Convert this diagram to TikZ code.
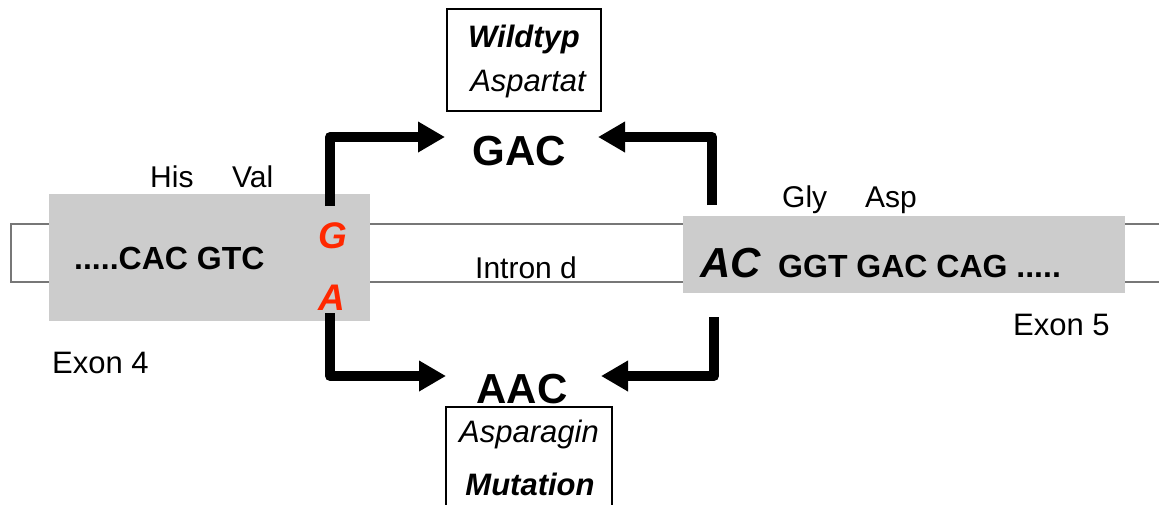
\documentclass[tikz,border=0pt]{standalone}
\usepackage{fontspec}
\setmainfont{Liberation Sans}
\usetikzlibrary{arrows.meta}
\definecolor{exongray}{HTML}{CCCCCC}
\definecolor{mutred}{RGB}{255,40,0}
\definecolor{strip}{HTML}{777777}
\newcommand\fsz[1]{\fontsize{#1}{#1}\selectfont}
\tikzset{
  txt/.style={inner sep=0pt, anchor=base west},
  ctxt/.style={inner sep=0pt, anchor=base},
  exonbox/.style={fill=exongray, draw=none, inner sep=0pt},
  labelbox/.style={draw=black, line width=1.5pt, inner sep=0pt, fill=white},
  thickarrow/.style={line width=10pt, line join=round, -{Triangle[length=27pt,width=29pt]}},
}
\begin{document}
\begin{tikzpicture}[x=1pt,y=-1pt]
\useasboundingbox (0,0) rectangle (1159,504);
% intron strip
\draw[strip, line width=1.5pt] (1159,224) -- (11,224) -- (11,282) -- (1159,282);
% exon boxes
\node[exonbox, minimum width=321pt, minimum height=127pt] (ex4) at (209.5,257.5) {};
\node[exonbox, minimum width=442pt, minimum height=77pt] (ex5) at (904,254.5) {};
% texts
\node[txt] (his) at (150,187) {\fsz{30}His};
\node[txt] (val) at (232,187) {\fsz{30}Val};
\node[txt] (seq4) at (74,269) {\fsz{32}\bfseries .....CAC GTC};
\node[ctxt, text=mutred] (G) at (333,248) {\fsz{37}\bfseries\itshape G};
\node[ctxt, text=mutred] (A) at (332,310) {\fsz{37}\bfseries\itshape A};
\node[txt] (intron) at (475,278) {\fsz{30}Intron d};
\node[txt] (AC) at (700,277) {\fsz{42}\bfseries\itshape AC};
\node[txt] (seq5) at (778,277) {\fsz{32}\bfseries GGT GAC CAG .....};
\node[txt] (gly) at (782,207) {\fsz{30}Gly};
\node[txt] (asp) at (865,207) {\fsz{30}Asp};
\node[txt] (exon5) at (1013,335) {\fsz{31}Exon 5};
\node[txt] (exon4) at (52,373) {\fsz{31}Exon 4};
\node[ctxt] (GAC) at (519,165) {\fsz{42}\bfseries GAC};
\node[ctxt] (AAC) at (522,403) {\fsz{42}\bfseries AAC};
% label boxes
\node[labelbox, minimum width=154pt, minimum height=102pt] (wtbox) at (524,60) {};
\node[ctxt] (wt) at (524,47) {\fsz{31}\bfseries\itshape Wildtyp};
\node[ctxt] (aspt) at (528,91) {\fsz{31}\itshape Aspartat};
\node[labelbox, minimum width=166pt, minimum height=120pt] (mutbox) at (529,467) {};
\node[ctxt] (asn) at (529,442) {\fsz{31}\itshape Asparagin};
\node[ctxt] (mut) at (530,495) {\fsz{31}\bfseries\itshape Mutation};
% arrow end points
\coordinate (s1) at (330,206);
\coordinate (t1) at (445,137);
\coordinate (s2) at (712,205);
\coordinate (t2) at (598,137);
\coordinate (s3) at (330,313);
\coordinate (t3) at (446,376);
\coordinate (s4) at (714,317);
\coordinate (t4) at (601,376);
\draw[thickarrow] (s1) |- (t1);
\draw[thickarrow] (s2) |- (t2);
\draw[thickarrow] (s3) |- (t3);
\draw[thickarrow] (s4) |- (t4);
\end{tikzpicture}
\end{document}
